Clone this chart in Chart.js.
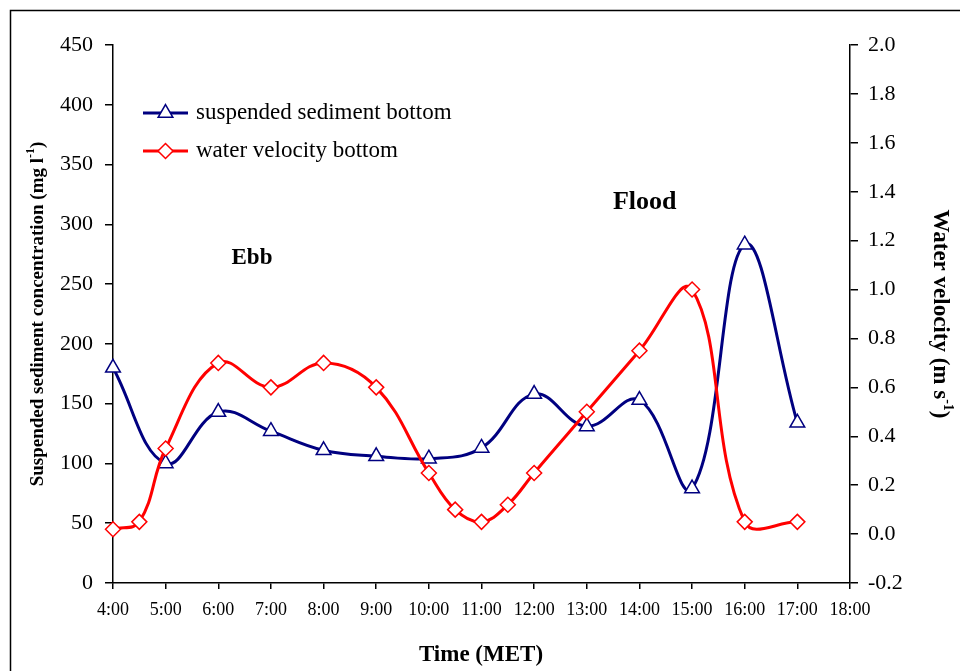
<!DOCTYPE html>
<html><head><meta charset="utf-8">
<script src="https://cdn.jsdelivr.net/npm/chart.js@4/dist/chart.umd.min.js"></script>
<style>html,body{margin:0;padding:0;background:#fff;}#wrap{width:960px;height:671px;}</style>
</head><body><div id="wrap"><canvas id="c" width="960" height="671"></canvas></div>
<script>
// ---- data ----
const hours = [4,5,6,7,8,9,10,11,12,13,14,15,16,17];
const sediment = [180,100,143,127,111,106,104,113,158,131,153,79,283,134];
const velocityHours = [4,4.5,5,6,7,8,9,10,10.5,11,11.5,12,13,14,15,16,17];
const velocity = [0.02,0.05,0.35,0.70,0.60,0.70,0.60,0.25,0.10,0.05,0.12,0.25,0.50,0.75,1.00,0.05,0.05];
const seriesNames = ['suspended sediment bottom','water velocity bottom'];
const leftTitle = [{t:'Suspended sediment concentration (mg l'},{t:'-1',sup:true},{t:')'}];
const rightTitle = [{t:'Water velocity (m s'},{t:'-1',sup:true},{t:')'}];
const xTitle = 'Time (MET)';
const phaseLabels = [{t:'Ebb', x:6.64, y:1.13},{t:'Flood', x:14.1, y:1.355}];

const NAVY = '#000080', RED = '#ff0000';
const FONT = '"Liberation Serif", "Times New Roman", serif';
Chart.defaults.font.family = FONT;
Chart.defaults.color = '#000';

function drawRich(ctx, x, y, rot, parts, size, weight) {
  ctx.save();
  ctx.translate(x, y); ctx.rotate(rot);
  ctx.textBaseline = 'middle'; ctx.textAlign = 'left'; ctx.fillStyle = '#000';
  let total = 0;
  const ws = parts.map(p => { ctx.font = weight + ' ' + (p.sup ? Math.round(size*0.62) : size) + 'px ' + FONT; const w = ctx.measureText(p.t).width; total += w; return w; });
  let cx = -total/2;
  parts.forEach((p,i) => {
    ctx.font = weight + ' ' + (p.sup ? Math.round(size*0.62) : size) + 'px ' + FONT;
    ctx.fillText(p.t, cx, p.sup ? -size*0.35 : 0);
    cx += ws[i];
  });
  ctx.restore();
}

function marker(ctx, style, x, y, color) {
  ctx.save();
  ctx.beginPath();
  if (style === 'triangle') {
    const r = 8.5;
    ctx.moveTo(x, y - r);
    ctx.lineTo(x + r*Math.sin(2*Math.PI/3), y + r*0.5);
    ctx.lineTo(x - r*Math.sin(2*Math.PI/3), y + r*0.5);
  } else {
    const r = 7.5;
    ctx.moveTo(x - r, y); ctx.lineTo(x, y - r); ctx.lineTo(x + r, y); ctx.lineTo(x, y + r);
  }
  ctx.closePath();
  ctx.fillStyle = '#fff'; ctx.fill();
  ctx.lineWidth = 1.5; ctx.strokeStyle = color; ctx.stroke();
  ctx.restore();
}

const decor = {
  id: 'decor',
  afterDraw(chart) {
    const ctx = chart.ctx;
    const xs = chart.scales.x, y1 = chart.scales.y1;
    ctx.save();
    ctx.strokeStyle = '#000'; ctx.lineWidth = 1.5;
    ctx.beginPath(); ctx.moveTo(10.5, 671); ctx.lineTo(10.5, 10.5); ctx.lineTo(960, 10.5); ctx.stroke();
    ctx.restore();
    drawRich(ctx, 38, 314, -Math.PI/2, leftTitle, 19, 'bold');
    drawRich(ctx, 940, 314, Math.PI/2, rightTitle, 23, 'bold');
    drawRich(ctx, 481, 655, 0, [{t:xTitle}], 23, 'bold');
    ctx.save();
    ctx.fillStyle = '#000'; ctx.textAlign = 'center'; ctx.textBaseline = 'middle';
    phaseLabels.forEach((p, i) => {
      ctx.font = 'bold ' + (i === 0 ? 23 : 26) + 'px ' + FONT;
      ctx.fillText(p.t, xs.getPixelForValue(p.x), y1.getPixelForValue(p.y));
    });
    ctx.restore();
    const rows = [{y:113, c:NAVY, s:'triangle'}, {y:151, c:RED, s:'diamond'}];
    rows.forEach((r, i) => {
      ctx.save();
      ctx.strokeStyle = r.c; ctx.lineWidth = 3;
      ctx.beginPath(); ctx.moveTo(143, r.y); ctx.lineTo(188, r.y); ctx.stroke();
      ctx.restore();
      marker(ctx, r.s, 165.5, r.y, r.c);
      ctx.save();
      ctx.fillStyle = '#000'; ctx.font = '23px ' + FONT; ctx.textBaseline = 'middle'; ctx.textAlign = 'left';
      ctx.fillText(seriesNames[i], 196, r.y);
      ctx.restore();
    });
  }
};

const axisGrid = {display:true, drawOnChartArea:false, drawTicks:true, color:'#000', lineWidth:1.5};

new Chart(document.getElementById('c'), {
  type: 'line',
  data: {
    datasets: [
      { label: seriesNames[0], data: hours.map((h,i)=>({x:h, y:sediment[i]})), yAxisID:'y',
        borderColor: NAVY, borderWidth: 3, tension: 0.4, pointStyle:'triangle', pointRadius: 8.5,
        pointBackgroundColor:'#fff', pointBorderColor: NAVY, pointBorderWidth: 1.5, order: 2, clip: false },
      { label: seriesNames[1], data: velocityHours.map((h,i)=>({x:h, y:velocity[i]})), yAxisID:'y1',
        borderColor: RED, borderWidth: 3, tension: 0.4, pointStyle:'rectRot', pointRadius: 7.5,
        pointBackgroundColor:'#fff', pointBorderColor: RED, pointBorderWidth: 1.5, order: 1, clip: false }
    ]
  },
  options: {
    responsive: false, animation: false, devicePixelRatio: 1,
    layout: { padding: { top: 45, left: 0, right: 0, bottom: 0 } },
    plugins: { legend: {display:false}, tooltip: {enabled:false} },
    scales: {
      x: { type:'linear', min:4, max:18, afterFit(s){ s.height = 88; },
           ticks: { stepSize:1, autoSkip:false, maxRotation:0, padding:10, font:{size:18},
                    callback: v => v + ':00' },
           grid: Object.assign({}, axisGrid, {tickLength:6}),
           border: {color:'#000', width:1.5} },
      y: { position:'left', min:0, max:450, afterFit(s){ s.width = 113; },
           ticks: { stepSize:50, padding:12, font:{size:22} },
           grid: Object.assign({}, axisGrid, {tickLength:8}),
           border: {color:'#000', width:1.5} },
      y1: { position:'right', min:-0.2, max:2.0, afterFit(s){ s.width = 110; },
           ticks: { stepSize:0.2, padding:10, font:{size:22},
                    callback: v => (Math.abs(v) < 1e-9 ? 0 : v).toFixed(1) },
           grid: Object.assign({}, axisGrid, {tickLength:8}),
           border: {color:'#000', width:1.5} }
    }
  },
  plugins: [decor]
});
</script>
</body></html>
